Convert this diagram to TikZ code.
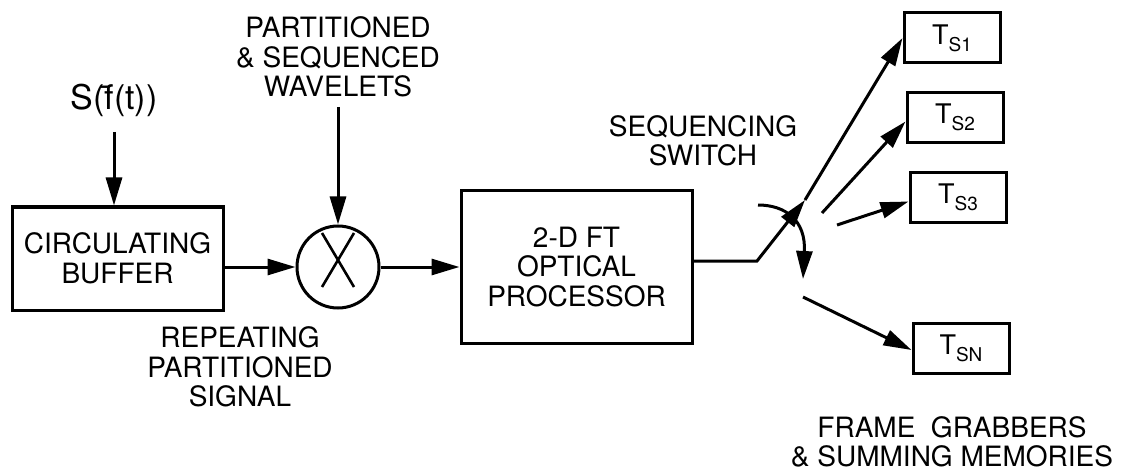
\documentclass[tikz,border=0pt]{standalone}
\usepackage{fontspec}
\setmainfont{TeX Gyre Heros}
\usetikzlibrary{positioning, arrows.meta, calc}

% T with lowered S index for the memory boxes
\newcommand{\tmem}[1]{{\fontsize{27}{27}\selectfont T}\raisebox{-7pt}{\fontsize{19}{19}\selectfont S#1}}

\begin{document}
\begin{tikzpicture}[x=1pt, y=-1pt,
      every node/.style={align=center, font=\fontsize{28}{29.5}\selectfont},
      box/.style={draw, line width=3pt, inner sep=0pt},
      membox/.style={box, minimum width=96pt, minimum height=50pt},
      arr/.style={line width=3pt, -{Triangle[length=28pt, width=16pt]}}]
    \useasboundingbox (0,0) rectangle (1121,473);

    % main chain
    \node[box, minimum width=211pt, minimum height=103pt] (buffer) at (117.5,258.5) {CIRCULATING\\BUFFER};
    \node[box, circle, minimum size=82pt] (mult) at (338,267) {};
    \draw[line width=2.6pt] ($(mult.center)+(-16,-34)$) -- ($(mult.center)+(16,20)$)
                            ($(mult.center)+(16,-34)$) -- ($(mult.center)+(-16,20)$);
    \node[box, minimum width=231pt, minimum height=152pt] (proc) at (576.5,267) {2-D FT\\OPTICAL\\PROCESSOR};

    % memories
    \node[membox] (ts1) at (952,38) {\tmem{1}};
    \node[membox] (ts2) at (955,117.5) {\tmem{2}};
    \node[membox] (ts3) at (958,197.5) {\tmem{3}};
    \node[membox] (tsn) at (961,348) {\tmem{N}};

    % labels
    \node[font=\fontsize{34}{36}\selectfont] (sig) at (114,100) {S(\=f(t))};
    \node (wav) at (338,57) {PARTITIONED\\\& SEQUENCED\\WAVELETS};
    \node (rep) at (240,367) {REPEATING\\PARTITIONED\\SIGNAL};
    \node (seq) at (703,141) {SEQUENCING\\SWITCH};
    \node (fg) at (952,442) {FRAME\ \ GRABBERS\\\& SUMMING MEMORIES};

    % switch points
    \coordinate (bend) at (757,261);
    \coordinate (mid) at (805,200);
    \coordinate (s2) at (822,213);
    \coordinate (s3) at (837,225);
    \coordinate (sn) at (803,297);
    \coordinate (arcA) at (758,205);
    \coordinate (arcB) at (803,279);

    \draw[arr] (sig.south |- 0,132) -- (sig.south |- buffer.north);
    \draw[arr] (wav.south |- 0,107) -- (mult.north);
    \draw[arr] (buffer.east |- mult.west) -- (mult.west);
    \draw[arr] (mult.east) -- (mult.east -| proc.west);
    \draw[arr] (proc.east |- bend) -- (bend) -- (mid);
    \draw[arr] (mid) -- (ts1.west);
    \draw[arr] (s2) -- ([yshift=-4pt]ts2.west);
    \draw[arr] (s3) -- ([yshift=-4pt]ts3.west);
    \draw[arr] (sn) -- ([yshift=-2pt]tsn.west);
    \draw[arr] (arcA) .. controls (785,205) and (806,220) .. (arcB);
\end{tikzpicture}
\end{document}
